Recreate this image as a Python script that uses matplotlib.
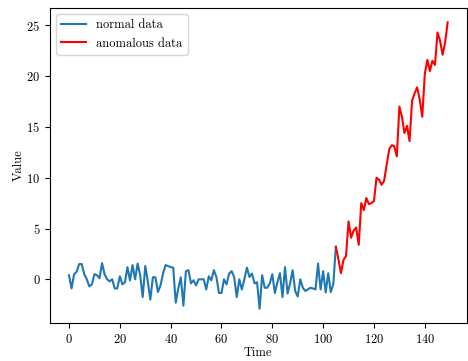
import matplotlib
matplotlib.use("Agg")
import matplotlib.pyplot as plt
import numpy as np

plt.rcParams["font.family"] = "serif"
plt.rcParams["font.serif"] = ["cmr10", "DejaVu Serif"]
plt.rcParams["mathtext.fontset"] = "cm"
plt.rcParams["axes.formatter.use_mathtext"] = True
plt.rcParams["font.size"] = 9

# normal segment (t = 0..104)
normal_values = [
    0.4, -0.9, 0.5, 0.75, 1.5, 1.5, 0.5, 0.0, -0.7, -0.5,
    0.5, 0.4, 0.1, 1.6, 0.5, 0.0, -0.2, 0.0, -0.9, -0.9,
    0.3, -0.5, -0.3, 1.2, -0.1, 1.4, 0.0, 1.55, 0.4, -1.75,
    1.3, -0.2, -2.0, 0.2, 0.2, -1.25, -0.6, 0.56, 1.4, 1.3,
    1.2, 1.15, -2.3, -0.9, 0.2, -2.6, 0.8, 0.9, -0.4, -0.1,
    -0.6, 0.0, 0.0, 0.0, -1.0, 0.3, -0.1, 0.9, 0.23, -1.35,
    -1.35, 0.0, -0.5, 0.56, 0.8, 0.2, -1.75, 0.0, -1.0, 0.0,
    1.15, 0.23, 0.56, -0.4, -0.3, -2.9, 0.4, -0.83, -0.83, -0.4,
    0.5, -1.35, -0.3, 0.6, -1.75, 1.2, -1.4, -0.4, 0.9, -1.15,
    -1.7, 0.0, -0.83, -1.15, -1.0, -0.83, -0.9, -1.0, 1.55, -1.0,
    0.8, -1.3, 0.6, -1.25, -0.5,
]
# anomalous segment (t = 105..149)
anomalous_values = [
    3.2, 2.0, 0.6, 1.9, 2.3, 5.7, 4.1, 4.8, 5.1, 3.4,
    7.5, 6.8, 8.0, 7.4, 7.5, 7.7, 10.0, 9.8, 9.3, 9.7,
    11.3, 12.8, 13.2, 13.1, 12.1, 17.0, 16.0, 14.4, 15.1, 13.6,
    17.6, 18.3, 18.9, 17.7, 16.0, 20.2, 21.6, 20.5, 21.5, 21.1,
    24.3, 23.5, 22.1, 23.3, 25.3,
]

values = np.array(normal_values + anomalous_values)
time = np.arange(len(values))
n_normal = len(normal_values)

fig = plt.figure(figsize=(4.68, 3.61), dpi=100)
ax = fig.add_axes([0.107, 0.105, 0.890, 0.873])

# blue runs up to the first anomalous point, red drawn on top
ax.plot(time[:n_normal + 1], values[:n_normal + 1], color="#1f77b4", lw=1.5, label="normal data")
ax.plot(time[n_normal:], values[n_normal:], color="red", lw=1.5, label="anomalous data")

ax.set_xlabel("Time", labelpad=1)
ax.set_ylabel("Value", labelpad=1)
ax.legend(loc="upper left")

fig.savefig("out.png", dpi=100)
